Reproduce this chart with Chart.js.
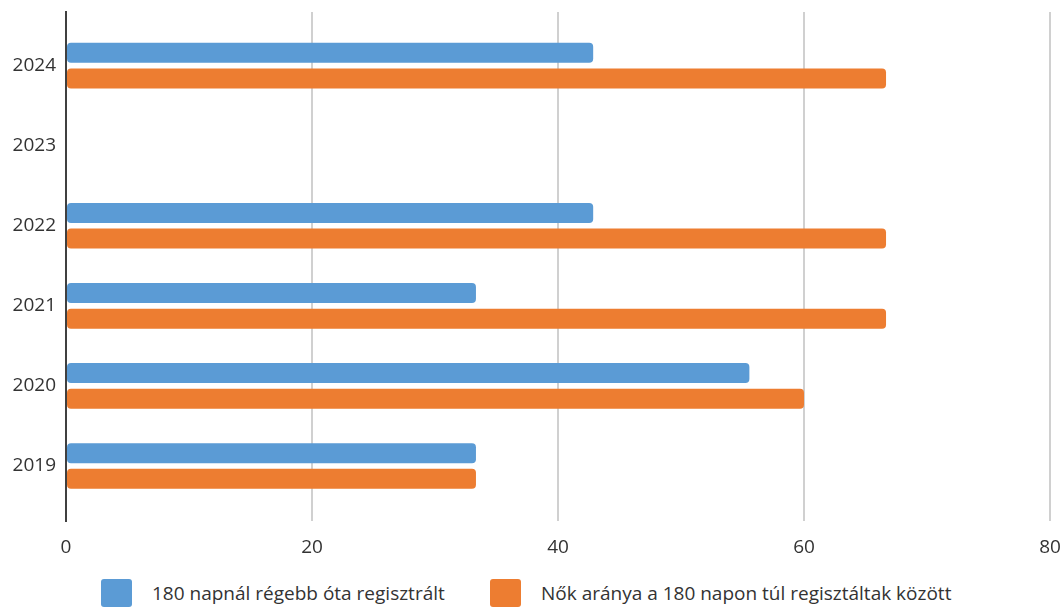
<!DOCTYPE html>
<html lang="hu">
<head>
  <meta charset="UTF-8" />
  <title>Regisztráltak aránya</title>
  <script src="https://cdn.jsdelivr.net/npm/chart.js"></script>
  <style>
    body {
      margin: 0;
      background: #fff;
      font-family: "Open Sans", sans-serif;
    }
    .wrap {
      position: relative;
      width: 1064px;
      height: 608px;
    }
    canvas {
      position: absolute;
      left: 0;
      top: 0;
    }
    .legend-item {
      position: absolute;
      top: 579px;
      display: flex;
      align-items: center;
      font-size: 19px;
      color: #333;
    }
    .legend-box {
      width: 31px;
      height: 28px;
      border-radius: 3px;
      margin-right: 20px;
    }
  </style>
</head>
<body>
  <div class="wrap">
    <canvas id="chart" width="1064" height="574"></canvas>
    <div class="legend-item" style="left:101px"><span class="legend-box" style="background:#5B9BD5"></span><span id="lab0"></span></div>
    <div class="legend-item" style="left:490px"><span class="legend-box" style="background:#ED7D31"></span><span id="lab1"></span></div>
  </div>

  <script>
    // adatok
    const years = ["2024", "2023", "2022", "2021", "2020", "2019"];
    const seriesNames = ["180 napnál régebb óta regisztrált", "Nők aránya a 180 napon túl regisztáltak között"];
    const over180 = [42.86, null, 42.86, 33.33, 55.56, 33.33];
    const womenShare = [66.67, null, 66.67, 66.67, 60, 33.33];
    const colors = ["#5B9BD5", "#ED7D31"];

    document.getElementById("lab0").textContent = seriesNames[0];
    document.getElementById("lab1").textContent = seriesNames[1];

    const tickFont = { family: "Open Sans", size: 19 };

    new Chart(document.getElementById("chart"), {
      type: "bar",
      data: {
        labels: years,
        datasets: [
          { label: seriesNames[0], data: over180, backgroundColor: colors[0], borderRadius: 4, borderSkipped: false },
          { label: seriesNames[1], data: womenShare, backgroundColor: colors[1], borderRadius: 4, borderSkipped: false }
        ]
      },
      options: {
        indexAxis: "y",
        responsive: false,
        animation: false,
        categoryPercentage: 0.64,
        barPercentage: 0.78,
        layout: { padding: { top: 12, right: 14, left: 0, bottom: 0 } },
        plugins: {
          legend: { display: false },
          tooltip: { enabled: false }
        },
        scales: {
          x: {
            min: 0,
            max: 80,
            ticks: { stepSize: 20, color: "#333", font: tickFont, padding: 15 },
            grid: {
              color: ctx => ctx.tick && ctx.tick.value === 0 ? "rgba(0,0,0,0)" : "#d0d0d0",
              lineWidth: 2,
              drawTicks: false
            },
            border: { display: false },
            afterFit: s => { s.paddingLeft = 0; s.paddingRight = 0; }
          },
          y: {
            offset: true,
            grid: { display: false, drawTicks: false },
            border: { color: "#404040", width: 2 },
            ticks: { color: "#333", font: tickFont, padding: 10 },
            afterFit: s => { s.width = 66; s.paddingTop = 0; s.paddingBottom = 0; },
            // a kategóriák kicsit beljebb kezdődnek, mint a tengely vége
            afterUpdate: s => { s._startValue = -0.67; s._valueRange = 6.36; }
          }
        }
      }
    });
  </script>
</body>
</html>
